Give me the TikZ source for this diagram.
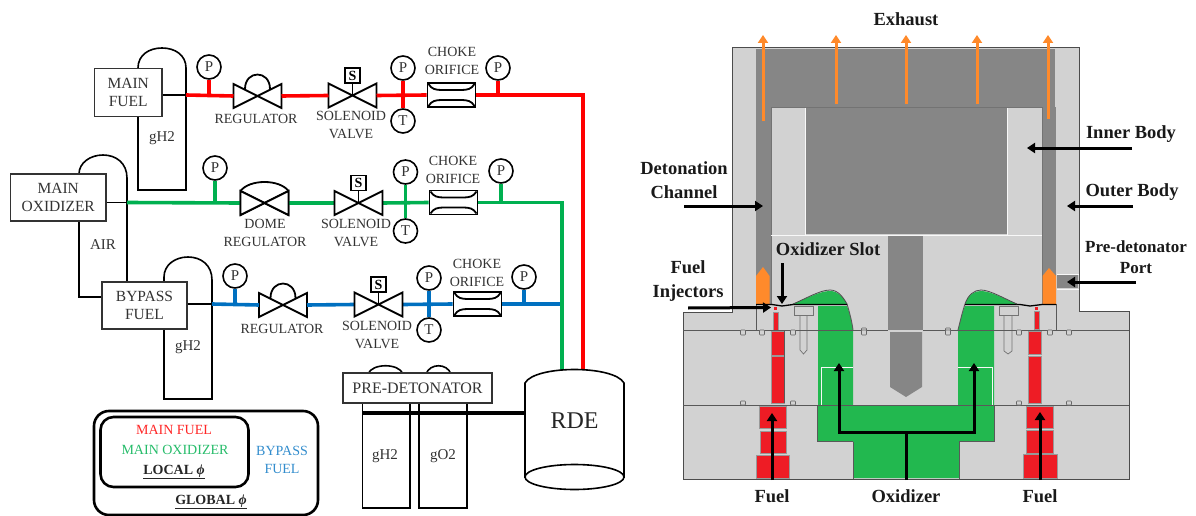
\documentclass[tikz,border=0pt]{standalone}
\usepackage{fontspec}
\setmainfont{Liberation Serif}
\usetikzlibrary{arrows.meta,calc}
\definecolor{pred}{HTML}{FF0000}
\definecolor{pgreen}{HTML}{00B050}
\definecolor{pblue}{HTML}{0070C0}
\definecolor{ink}{HTML}{333333}
\definecolor{bodyl}{HTML}{D2D2D2}
\definecolor{bodyd}{HTML}{868686}
\definecolor{fuelr}{HTML}{EE1C25}
\definecolor{oxg}{HTML}{22B84F}
\definecolor{exh}{HTML}{FF8A2B}
\newcommand{\fs}[1]{\fontsize{#1}{#1}\selectfont}
\tikzset{
  x=1pt,y=-1pt,
  outl/.style={draw=black,line width=1.8pt},
  tank/.style={draw=black,line width=1.6pt,fill=white},
  lab/.style={text=ink,font=\fs{14},inner sep=0pt,align=center},
  boxlab/.style={draw=ink,line width=1.3pt,fill=white,text=ink,font=\fs{15.5},inner sep=0pt,align=center},
  gauge/.style={circle,draw=black,line width=1.6pt,fill=white,minimum size=24pt,inner sep=0pt,text=ink,font=\fs{15}},
  valvebox/.style={minimum width=48pt,minimum height=24pt,inner sep=0pt,outer sep=0pt},
  sbox/.style={draw=black,line width=1.6pt,fill=white,minimum size=15pt,inner sep=0pt,font=\fs{14}\bfseries},
  chokebox/.style={draw=black,line width=1.9pt,fill=white,minimum width=48pt,minimum height=24pt,inner sep=0pt},
  redp/.style={pred,line width=3.6pt},
  greenp/.style={pgreen,line width=3.6pt},
  bluep/.style={pblue,line width=3.6pt},
  blk/.style={black,line width=1.9pt},
  seam/.style={draw=black!65,line width=.9pt},
  hi/.style={draw=white!85!bodyl,line width=.8pt},
  blab/.style={font=\fs{18.5}\bfseries,text=black!90,inner sep=0pt,align=center},
  barrow/.style={black,line width=3pt,-{Triangle[width=10pt,length=8pt]}},
  oarrow/.style={exh,line width=3pt,-{Triangle[width=10pt,length=8pt]}},
  fuelpart/.style={fill=fuelr,draw=black!40,line width=.5pt},
  oxpart/.style={fill=oxg,draw=none},
}
\newcommand{\valve}[3]{%
  \node[valvebox] (#1) at (#2,#3) {};
  \draw[outl,line join=miter] (#1.north west)--(#1.south east)--(#1.north east)--(#1.south west)--cycle;}
\newcommand{\regdome}[1]{%
  \draw[outl,shift={(#1)}] (-12.5,-7) .. controls (-12.5,-26.3) and (12.5,-26.3) .. (12.5,-7);}
\newcommand{\solenoid}[4]{% valve name, box name, x, y
  \valve{#1}{#3}{#4}
  \node[sbox] (#2) at ($(#1)+(0,-20)$) {S};
  \draw[outl] (#2.south) -- (#1.center);}
\newcommand{\choke}[3]{%
  \node[chokebox] (#1) at (#2,#3) {};
  \draw[outl,shift={(#1)}] (-23,-11) .. controls (-20,-6) and (-16,-5) .. (-10,-5) -- (10,-5) .. controls (16,-5) and (20,-6) .. (23,-11);
  \draw[outl,shift={(#1)}] (-23,11) .. controls (-20,6) and (-16,5) .. (-10,5) -- (10,5) .. controls (16,5) and (20,6) .. (23,11);}
\newcommand{\grooveb}[2]{\draw[fill=bodyl,draw=black!60,line width=.6pt,rounded corners=.8pt] (#1-2.5,#2) rectangle (#1+2.5,#2+5);}
\newcommand{\groovea}[2]{\draw[fill=bodyl,draw=black!60,line width=.6pt,rounded corners=.8pt] (#1-2.5,#2-4) rectangle (#1+2.5,#2);}
\begin{document}
\begin{tikzpicture}
\useasboundingbox (0,0) rectangle (1196,516);
%% ---------- left: tanks
\draw[tank] (138,190) -- (138,68) .. controls (138,55) and (149,48) .. (162,48) .. controls (175,48) and (186,55) .. (186,68) -- (186,190) -- cycle;
\draw[tank,fill=none] (102,297) -- (79,297) -- (79,174) .. controls (79,163) and (90,155) .. (103,155) .. controls (116,155) and (127,163) .. (127,178) -- (127,282);
\draw[tank] (164,399) -- (164,277) .. controls (164,265) and (175,257) .. (188,257) .. controls (201,257) and (212,265) .. (212,280) -- (212,399) -- cycle;
\draw[tank] (368,374) .. controls (372,363) and (399,363) .. (403,374);
\draw[tank] (426,374) .. controls (430,363) and (447,363) .. (451,374);
\draw[tank] (362.5,403) rectangle (410,508);
\draw[tank] (419,403) rectangle (467,508);
\node[lab,font=\fs{15}] (gha) at (162,138) {gH2};
\node[lab,font=\fs{15}] (air) at (103,245) {AIR};
\node[lab,font=\fs{15}] (ghb) at (188,347) {gH2};
\node[lab,font=\fs{15}] (ghc) at (385,456) {gH2};
\node[lab,font=\fs{15}] (goc) at (443,456) {gO2};
%% boxes
\node[boxlab,minimum width=67.5pt,minimum height=48.5pt] (mf) at (128.25,92.5) {MAIN\\[2.5pt]FUEL};
\node[boxlab,minimum width=95.5pt,minimum height=47pt] (mo) at (58.25,197.5) {MAIN\\[2.5pt]OXIDIZER};
\node[boxlab,minimum width=85pt,minimum height=47pt] (bf) at (144.5,305.5) {BYPASS\\[2.5pt]FUEL};
\node[boxlab,font=\fs{16},minimum width=149pt,minimum height=30pt] (pd) at (417.5,388) {PRE-DETONATOR};
%% wall junctions and corners
\coordinate (wa) at (186,95);
\coordinate (wb) at (127,202.5);
\coordinate (wc) at (212,304);
\coordinate (rcorner) at (583,95);
\coordinate (gcorner) at (562,202.5);
\coordinate (bend) at (562,304);
\coordinate (rtop) at (583,371);
\coordinate (gtop) at (562,371);
%% regulators
\valve{ra}{257.5}{96}
\regdome{ra}
\valve{sa}{352.5}{95.5}
\valve{rb}{264.5}{203}
\valve{rc}{283}{305}
\regdome{rc}
%% ---------- pipes
\draw[blk] (mf.east |- wa) -- (wa);
\draw[blk] (mo.east |- wb) -- (wb);
\draw[blk] (bf.east |- wc) -- (wc);
\node[gauge] (p1) at (209,67) {P};
\node[gauge] (p2) at (403,68) {P};
\node[gauge] (t2) at (403,121) {T};
\node[gauge] (p3) at (498,68) {P};
\node[gauge] (p4) at (215,168) {P};
\node[gauge] (p5) at (405.5,172) {P};
\node[gauge] (t5) at (405.5,231) {T};
\node[gauge] (p6) at (501,171) {P};
\node[gauge] (p7) at (235,276) {P};
\node[gauge] (p8) at (429,278) {P};
\node[gauge] (t8) at (429,330) {T};
\node[gauge] (p9) at (524,277) {P};
\node[chokebox] (ca) at (451.5,95) {};
\node[chokebox] (cb) at (453.5,202.5) {};
\node[chokebox] (cc) at (477.5,304) {};
\node[valvebox] (sb) at (358.5,203) {};
\node[valvebox] (sc) at (378.5,304.5) {};
% red
\draw[redp] (wa) -- (ra.west) (ra.east) -- (sa.west) (sa.east) -- (ca.west);
\draw[redp,line join=miter] (ca.east) -- (rcorner) -- (rtop);
\draw[redp] (p1.south) -- (p1 |- wa);
\draw[redp] (p2.south) -- (t2.north);
\draw[redp] (p3.south) -- (p3 |- rcorner);
% green
\draw[greenp] (wb) -- (rb.west) (rb.east) -- (sb.west) (sb.east) -- (cb.west);
\draw[greenp,line join=miter] (cb.east) -- (gcorner) -- (gtop);
\draw[greenp] (p4.south) -- (p4 |- wb);
\draw[greenp] (p5.south) -- (t5.north);
\draw[greenp] (p6.south) -- (p6 |- gcorner);
% blue
\draw[bluep] (wc) -- (rc.west) (rc.east) -- (sc.west) (sc.east) -- (cc.west);
\draw[bluep] (cc.east) -- (bend);
\draw[bluep] (p7.south) -- (p7 |- wc);
\draw[bluep] (p8.south) -- (t8.north);
\draw[bluep] (p9.south) -- (p9 |- bend);
\draw[greenp] (gcorner) -- (gtop);
%% valves and orifices over the pipes
\draw[outl,line join=miter,fill=white] (rb.north west)--(rb.south east)--(rb.north east)--(rb.south west)--cycle;
\draw[outl] (rb.north west)--(rb.south west) (rb.north east)--(rb.south east);
\draw[outl,shift={(rb)}] (-24,-12) .. controls (-15,-24) and (15,-24) .. (24,-12);
\node[sbox] (sba) at ($(sa)+(0,-20)$) {S};
\draw[outl] (sba.south) -- (sa.center);
\solenoid{sb}{sbb}{358.5}{203}
\solenoid{sc}{sbc}{378.5}{304.5}
\choke{ca}{451.5}{95}
\choke{cb}{453.5}{202.5}
\choke{cc}{477.5}{304}
%% labels of the line
\node[lab] (lra) at (256,119) {REGULATOR};
\node[lab,align=center] (lsa) at (351,125) {SOLENOID\\[4pt]VALVE};
\node[lab] (lca) at (452,61) {CHOKE\\[4pt]ORIFICE};
\node[lab] (lrb) at (265,233) {DOME\\[4pt]REGULATOR};
\node[lab] (lsb) at (356,233) {SOLENOID\\[4pt]VALVE};
\node[lab] (lcb) at (453,170) {CHOKE\\[4pt]ORIFICE};
\node[lab] (lrc) at (282,329) {REGULATOR};
\node[lab] (lsc) at (377,335) {SOLENOID\\[4pt]VALVE};
\node[lab] (lcc) at (477,273) {CHOKE\\[4pt]ORIFICE};
%% RDE
\draw[tank,fill=white] (525,383) .. controls (535,365) and (614,365) .. (624,383) -- (624,477) -- (525,477) -- cycle;
\draw[tank] (574.5,477) ellipse [x radius=49.5,y radius=12.5];
\node[inner sep=0pt,minimum width=99pt,minimum height=40pt,font=\fs{24},text=black!85] (rde) at (574.5,421) {RDE};
\coordinate (pdl) at (362.5,413);
\draw[black,line width=3.4pt] (pdl) -- (pdl -| rde.west);
%% legend
\draw[black,line width=2.6pt,rounded corners=15pt] (94,411) rectangle (318,515);
\draw[black,line width=2.6pt,rounded corners=13pt] (100.5,417) rectangle (248.5,487);
\node[lab,text=pred!85!white] (lmf) at (174,430) {MAIN FUEL};
\node[lab,text=pgreen!85!white] (lmo) at (175,450) {MAIN OXIDIZER};
\node[lab,text=black!85,font=\fs{14}\bfseries] (lloc) at (174,472) {\underline{LOCAL \textit{ϕ}}};
\node[lab,text=pblue!80!white] (lbf) at (282,460) {BYPASS\\[4pt]FUEL};
\node[lab,text=black!85,font=\fs{14}\bfseries] (lglo) at (211,502) {\underline{GLOBAL \textit{ϕ}}};
%% ---------- right: cut-away
\draw[fill=bodyl,draw=black!70,line width=1pt] (732.5,48) -- (1079,48) -- (1079,311) -- (1129,311) -- (1129,479) -- (683,479) -- (683,312) -- (732.5,312) -- cycle;
\fill[bodyd] (756,49) rectangle (1055,107);
\fill[bodyd] (756,107) rectangle (771,304);
\fill[bodyd] (1042,107) rectangle (1056,304);
\fill[bodyd] (1057,275) rectangle (1078,288);
\draw[hi] (1057,274) -- (1079,274) (1057,289) -- (1079,289);
\draw[fill=bodyl,draw=black!55,line width=.8pt] (771,304) -- (771,107) -- (1042,107) -- (1042,304);
\fill[bodyd] (805,108) rectangle (1007,234);
\draw[hi] (805,108) -- (805,235) -- (1007,235) -- (1007,108);
\draw[hi] (771,235.5) -- (888,235.5) (923,235.5) -- (1042,235.5);
\fill[bodyd] (888,236) rectangle (923,330);
\fill[bodyd] (890,332) -- (922,332) -- (922,387) -- (906,397) -- (890,387) -- cycle;
% orange pre-detonators
\fill[exh] (756,304) -- (756,276) -- (763,267) -- (769.5,276) -- (769.5,304) -- cycle;
\fill[exh] (1042.5,304) -- (1042.5,276) -- (1049,268) -- (1056,276) -- (1056,304) -- cycle;
% oxidizer
\fill[oxg] (793,304) .. controls (805,299) and (820,291) .. (830,291) .. controls (838,291) and (843,297) .. (847,304) -- cycle;
\fill[oxg] (818,306) -- (847,306) .. controls (850,314) and (852,322) .. (853,330) -- (853,405) -- (994,405) -- (994,441) -- (959,441) -- (959,478) -- (853,478) -- (853,441) -- (818,441) -- cycle;
\fill[oxg] (958,330) .. controls (960,322) and (962,313) .. (965,306) -- (994,306) -- (994,405) -- (958,405) -- cycle;
\fill[oxg] (965,304) .. controls (968,295) and (974,291) .. (981,291) .. controls (990,291) and (1005,299) .. (1017,304) -- cycle;
\draw[hi] (821,405) -- (821,367) -- (853,367) (958,367) -- (992,367) -- (992,405);
\draw[hi] (818,330) -- (853,330) (958,330) -- (994,330);
% fuel left
\fill[fuelr] (774,307) rectangle (777,310);
\draw[fuelpart] (773,312) rectangle (778,330);
\draw[fuelpart] (771,331) rectangle (784,355);
\draw[fuelpart] (771,356.5) rectangle (784,403);
\draw[fuelpart] (759,406) rectangle (786,428);
\draw[fuelpart] (760,431) rectangle (786,453);
\draw[fuelpart] (756,455) rectangle (789,478);
% fuel right
\fill[fuelr] (1035,307) rectangle (1038,310);
\draw[fuelpart] (1034,311) rectangle (1039,329);
\draw[fuelpart] (1028,331) rectangle (1041,354);
\draw[fuelpart] (1028,356) rectangle (1041,403);
\draw[fuelpart] (1026,406) rectangle (1053,428);
\draw[fuelpart] (1026,430) rectangle (1053,453);
\draw[fuelpart] (1023,454) rectangle (1057,478);
% bolts
\draw[fill=bodyl,draw=black!55,line width=.7pt] (800,315) -- (800,350) -- (803.5,354) -- (807,350) -- (807,315);
\draw[fill=bodyl,draw=black!55,line width=.7pt] (794,306) rectangle (813,315);
\draw[fill=bodyl,draw=black!55,line width=.7pt] (1004,315) -- (1004,351) -- (1008,354) -- (1012,351) -- (1012,315);
\draw[fill=bodyl,draw=black!55,line width=.7pt] (999,306) rectangle (1018,315);
% seams
\draw[seam] (683,330) -- (888,330) (923,330) -- (1129,330);
\draw[seam] (683,405) -- (1129,405);
\draw[seam] (756,304) -- (756,330) (1056,304) -- (1056,330);
\draw[seam] (784,330) -- (784,403);
\draw[seam] (853,441.5) -- (853,479) (959,441.5) -- (959,479);
\draw[seam] (817,405) -- (817,441) -- (853,441) (959,441) -- (994,441) -- (994,405);
\draw[seam] (847,304) .. controls (850,314) and (852,322) .. (853,330);
\draw[seam] (958,330) .. controls (960,322) and (962,313) .. (965,304);
\draw[black,line width=1.3pt] (756,304.5) -- (772,304.5) -- (782,306) -- (793,304.5) -- (847,304.5);
\draw[black,line width=1.3pt] (965,304.5) -- (1020,304.5) -- (1030,306) -- (1042,304.5) -- (1056,304.5);
\draw[black!70,line width=.8pt] (793,304) .. controls (805,299) and (820,290) .. (830,290) .. controls (838,290) and (843,297) .. (847,304);
\draw[black!70,line width=.8pt] (965,304) .. controls (968,295) and (974,290) .. (981,290) .. controls (990,290) and (1005,299) .. (1017,304);
% grooves
\grooveb{743}{330}\grooveb{762}{330}\grooveb{793}{330}\groovea{864}{332}\grooveb{864}{330}
\groovea{948}{332}\grooveb{948}{330}\grooveb{1019}{330}\grooveb{1050}{330}\grooveb{1069}{330}
\groovea{743}{405}\groovea{793}{405}\groovea{1019}{405}\groovea{1069}{405}
% exhaust arrows
\node[blab] (exl) at (906,19) {Exhaust};
\foreach \n/\xx/\yy in {a/763/121,b/836/104,c/906/104,d/977/104,e/1048/119}{
  \coordinate (ex\n s) at (\xx,\yy);
  \coordinate (ex\n t) at (\xx,35);
  \draw[oarrow] (ex\n s) -- (ex\n t);
}
% labels and arrows
\node[blab] (dcl) at (684,180) {Detonation\\[5pt]Channel};
\coordinate (dca) at (684,206); \coordinate (dcb) at (763,206);
\draw[barrow] (dca) -- (dcb);
\node[blab] (ibl) at (1131,134) {Inner Body};
\coordinate (iba) at (1132,148); \coordinate (ibb) at (1027,148);
\draw[barrow] (iba) -- (ibb);
\node[blab] (obl) at (1132,192) {Outer Body};
\coordinate (oba) at (1133,206); \coordinate (obb) at (1067,206);
\draw[barrow] (oba) -- (obb);
\node[blab,font=\fs{17}\bfseries] (pdp) at (1136,257.5) {Pre-detonator\\[4pt]Port};
\coordinate (ppa) at (1136,282); \coordinate (ppb) at (1067,282);
\draw[barrow] (ppa) -- (ppb);
\node[blab] (osl) at (828,249) {Oxidizer Slot};
\coordinate (osa) at (782,263); \coordinate (osb) at (782,304);
\draw[barrow] (osa) -- (osb);
\node[blab] (fil) at (688,281) {Fuel\\[5pt]Injectors};
\coordinate (fia) at (688,308); \coordinate (fib) at (771,307.5);
\draw[barrow] (fia) -- (fib);
\node[blab] (ful) at (772,496) {Fuel};
\coordinate (fua) at (772,480); \coordinate (fub) at (772,413);
\draw[barrow] (fua) -- (fub);
\node[blab] (fur) at (1040,496) {Fuel};
\coordinate (fra) at (1040,480); \coordinate (frb) at (1040,412);
\draw[barrow] (fra) -- (frb);
\node[blab] (oxl) at (906,496) {Oxidizer};
\coordinate (oxa) at (906,480); \coordinate (oxj) at (906,432);
\coordinate (oxb) at (839,363); \coordinate (oxc) at (974,363);
\draw[black,line width=3pt] (oxa) -- (oxj);
\draw[barrow] (oxj) -- (oxj -| oxb) -- (oxb);
\draw[barrow] (oxj) -- (oxj -| oxc) -- (oxc);
\end{tikzpicture}
\end{document}
